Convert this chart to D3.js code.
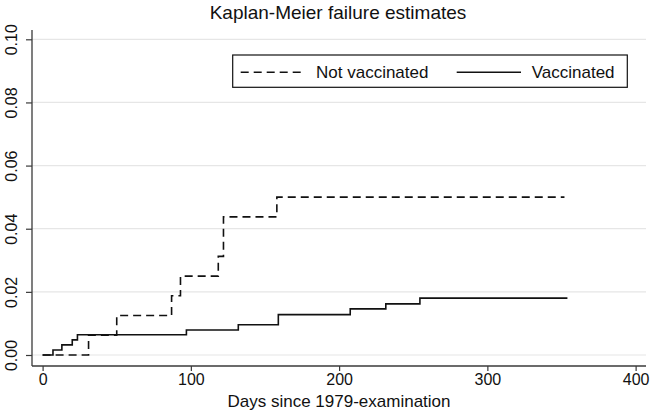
<!DOCTYPE html>
<html>
<head>
<meta charset="utf-8">
<script src="https://cdn.jsdelivr.net/npm/d3@7"></script>
<style>
  html, body { margin: 0; padding: 0; background: #fff; }
  svg { display: block; font-family: "Liberation Sans", Arial, Helvetica, sans-serif; }
</style>
</head>
<body>
<svg id="chart" width="651" height="413"></svg>
<script>
// ---- data ----
const notVacTimes  = [0, 31, 50, 87, 93, 118.5, 122, 158, 352];
const notVacValues = [0, 0.00625, 0.0125, 0.01875, 0.025, 0.03125, 0.04375, 0.05, 0.05];
const vacTimes     = [0, 7, 13, 20, 23.5, 97, 132, 159, 207.5, 231.5, 254.5, 354];
const vacValues    = [0, 0.0016, 0.0032, 0.0048, 0.0064, 0.0079, 0.0096, 0.0128, 0.0146, 0.0162, 0.018, 0.018];
const xTicks = [0, 100, 200, 300, 400];
const yTicks = [0, 0.02, 0.04, 0.06, 0.08, 0.10];
const seriesNames = ["Not vaccinated", "Vaccinated"];
const titleText = "Kaplan-Meier failure estimates";
const xTitle = "Days since 1979-examination";

// ---- layout ----
const svg = d3.select("#chart");
const pLeft = 32, pRight = 646, pTop = 30, pBottom = 366;
const x = d3.scaleLinear().domain([-7.15, 407]).range([pLeft, pRight]);
const y = d3.scaleLinear().domain([0, 0.10]).range([355, 39.3]);

// gridlines
svg.append("g").selectAll("line").data(yTicks).join("line")
  .attr("x1", pLeft).attr("x2", pRight)
  .attr("y1", d => y(d)).attr("y2", d => y(d))
  .attr("stroke", "#e6e6e6").attr("stroke-width", 1.2);

// axes
const xAxis = svg.append("g").attr("transform", `translate(0,${pBottom})`)
  .call(d3.axisBottom(x).tickValues(xTicks).tickFormat(d3.format("d")).tickSize(5).tickPadding(3).tickSizeOuter(0));
const yAxis = svg.append("g").attr("transform", `translate(${pLeft},0)`)
  .call(d3.axisLeft(y).tickValues(yTicks).tickFormat(d3.format(".2f")).tickSize(6).tickSizeOuter(0));

[xAxis, yAxis].forEach(g => {
  g.select(".domain").attr("stroke", "#3a3a3a").attr("stroke-width", 1.3);
  g.selectAll(".tick line").attr("stroke", "#3a3a3a").attr("stroke-width", 1.2);
  g.selectAll("text").attr("fill", "#111").style("font-size", "16px")
    .style("font-family", '"Liberation Sans", Arial, Helvetica, sans-serif');
});
// extend domains to full frame
xAxis.select(".domain").attr("d", `M${pLeft},0H${pRight}`);
yAxis.select(".domain").attr("d", `M0,${pTop}V${pBottom}`);

// rotate y labels
yAxis.selectAll(".tick text")
  .attr("x", null).attr("dy", null)
  .attr("text-anchor", "middle")
  .attr("transform", "translate(-15.5,0) rotate(-90)");

// ---- lines ----
const line = d3.line().x(d => x(d[0])).y(d => y(d[1])).curve(d3.curveStepAfter);
const notVac = notVacTimes.map((t, i) => [t, notVacValues[i]]);
const vac = vacTimes.map((t, i) => [t, vacValues[i]]);

svg.append("path").datum(notVac).attr("d", line)
  .attr("fill", "none").attr("stroke", "#111").attr("stroke-width", 1.6)
  .attr("stroke-dasharray", "8,5");
svg.append("path").datum(vac).attr("d", line)
  .attr("fill", "none").attr("stroke", "#111").attr("stroke-width", 1.6);

// ---- title ----
svg.append("text").attr("x", 338).attr("y", 18.5).attr("text-anchor", "middle")
  .style("font-size", "19px").attr("fill", "#111").text(titleText);

svg.append("text").attr("x", 339).attr("y", 407.3).attr("text-anchor", "middle")
  .style("font-size", "17px").attr("fill", "#111").text(xTitle);

// ---- legend ----
const lg = svg.append("g");
lg.append("rect").attr("x", 232.7).attr("y", 55).attr("width", 394.6).attr("height", 32.3)
  .attr("fill", "#fff").attr("stroke", "#111").attr("stroke-width", 1.2);
lg.append("line").attr("x1", 240.7).attr("x2", 301).attr("y1", 72.3).attr("y2", 72.3)
  .attr("stroke", "#111").attr("stroke-width", 1.6).attr("stroke-dasharray", "8,5");
lg.append("text").attr("x", 316).attr("y", 77.5).style("font-size", "17px").attr("fill", "#111").text(seriesNames[0]);
lg.append("line").attr("x1", 456.7).attr("x2", 521).attr("y1", 72.3).attr("y2", 72.3)
  .attr("stroke", "#111").attr("stroke-width", 1.6);
lg.append("text").attr("x", 531.7).attr("y", 77.5).style("font-size", "17px").attr("fill", "#111").text(seriesNames[1]);
</script>
</body>
</html>
